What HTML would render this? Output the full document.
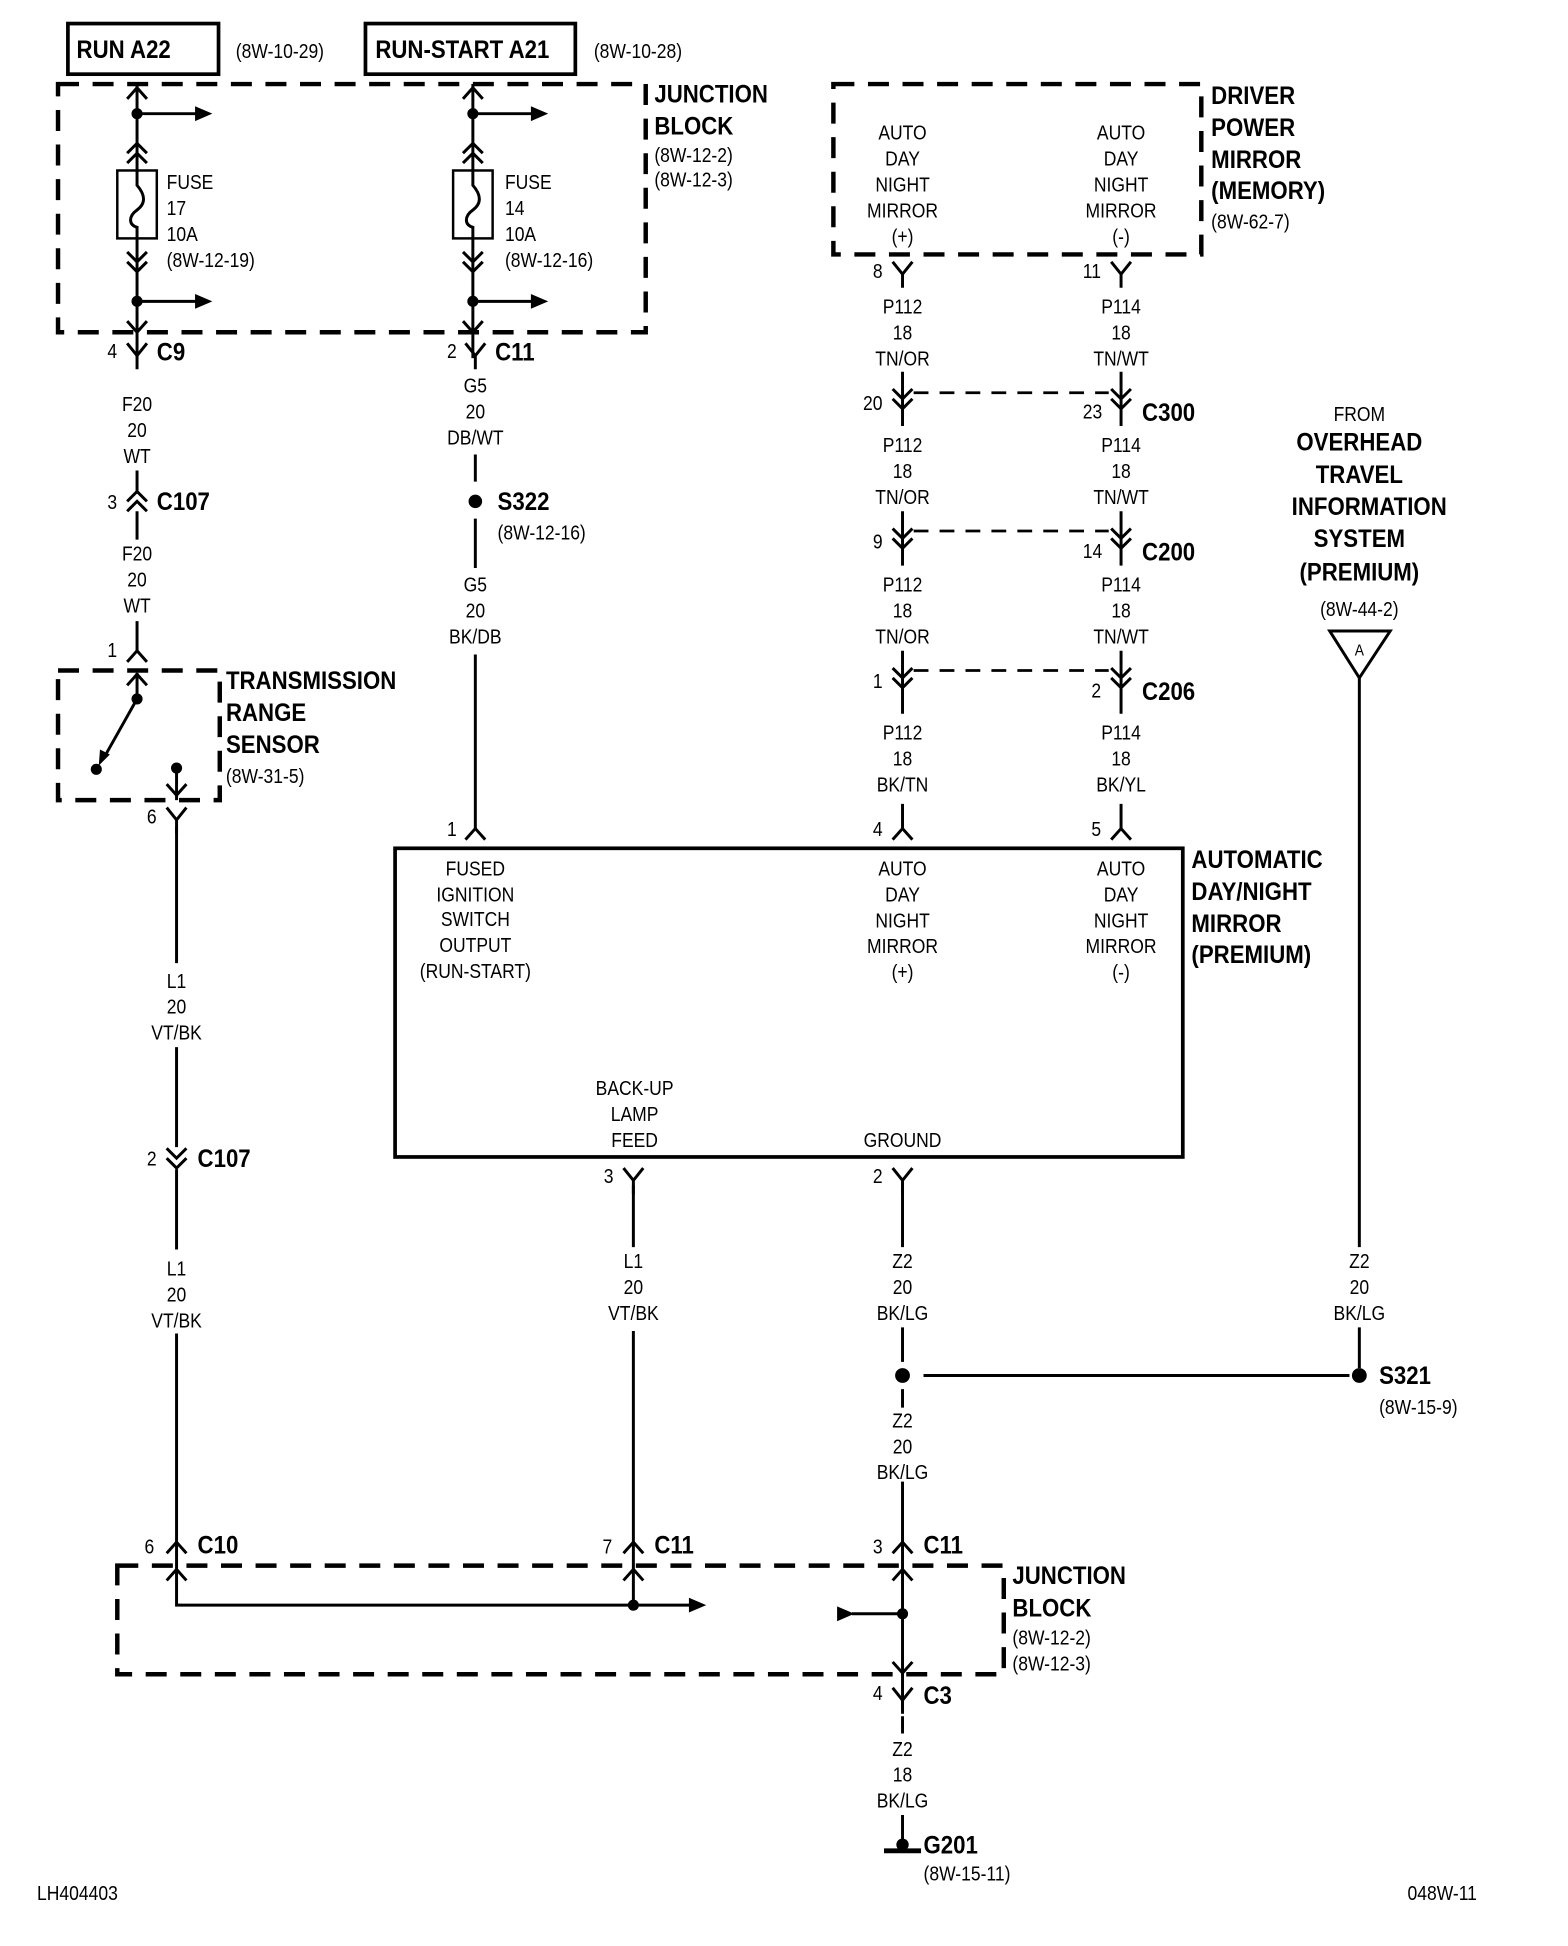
<!DOCTYPE html>
<html><head><meta charset="utf-8"><style>
html,body{margin:0;padding:0;background:#fff;}
svg{display:block;}
text{font-family:"Liberation Sans",sans-serif;fill:#000;transform-box:fill-box;}
.s{font-size:16.5px;}
.t{font-size:20px;font-weight:bold;}
.st{transform-origin:left center;transform:scaleX(0.86);}
.t.st{transform:scaleX(0.9);}
.m{text-anchor:middle;transform-origin:center;transform:scaleX(0.86);}
.t.m{transform:scaleX(0.9);}
.w{stroke:#000;stroke-width:2.4;fill:none;}
.d{stroke:#000;stroke-width:3.6;fill:none;stroke-dasharray:17 11;}
.dl{stroke:#000;stroke-width:2.2;fill:none;stroke-dasharray:12 9;}
</style></head><body>
<svg width="1568" height="1946" viewBox="0 0 1270 1576" xmlns="http://www.w3.org/2000/svg">
<defs>
<path id="y" d="M-8,-9 L0,1 L8,-9 M0,1 V12" stroke="#000" stroke-width="2.4" fill="none"/>
<path id="ca" d="M-8,8 L0,-1 L8,8" stroke="#000" stroke-width="2.4" fill="none"/>
<path id="cv" d="M-8,-8 L0,1 L8,-8" stroke="#000" stroke-width="2.4" fill="none"/>
<path id="dd" d="M-8,-8 L0,0 L8,-8 M-8,0 L0,8 L8,0" stroke="#000" stroke-width="2.4" fill="none"/>
<path id="du" d="M-8,8 L0,0 L8,8 M-8,0 L0,-8 L8,0" stroke="#000" stroke-width="2.4" fill="none"/>
<path id="ar" d="M0,-6 L14,0 L0,6 Z" fill="#000"/>
</defs>

<rect x="55" y="19" width="122" height="41" fill="none" stroke="#000" stroke-width="3"/>
<text class="t st" x="62" y="47">RUN A22</text>
<text class="s st" x="191" y="47">(8W-10-29)</text>
<rect x="296" y="19" width="170" height="41" fill="none" stroke="#000" stroke-width="3"/>
<text class="t st" x="304" y="47">RUN-START A21</text>
<text class="s st" x="481" y="47">(8W-10-28)</text>

<rect x="47" y="68" width="476" height="201" class="d"/>
<text class="t st" x="530" y="83">JUNCTION</text>
<text class="t st" x="530" y="109">BLOCK</text>
<text class="s st" x="530" y="131">(8W-12-2)</text>
<text class="s st" x="530" y="151">(8W-12-3)</text>

<g>
<path class="w" d="M111,68 V138 M111,193 V290"/>
<use href="#ca" x="111" y="72"/>
<circle cx="111" cy="92" r="4.5"/>
<path class="w" d="M111,92 H160"/><use href="#ar" x="158" y="92"/>
<use href="#du" x="111" y="124"/>
<rect x="95" y="138" width="32" height="55" fill="#fff" stroke="#000" stroke-width="2"/>
<path class="w" d="M111,138 V150 C118,158 118,165 111,170 C104,175 104,182 111,184 V193" stroke-width="2"/>
<use href="#dd" x="111" y="212"/>
<circle cx="111" cy="244" r="4.5"/>
<path class="w" d="M111,244 H160"/><use href="#ar" x="158" y="244"/>
<use href="#cv" x="111" y="268"/>
<text class="s st" x="135" y="153">FUSE</text>
<text class="s st" x="135" y="174">17</text>
<text class="s st" x="135" y="195">10A</text>
<text class="s st" x="135" y="216">(8W-12-19)</text>
</g>
<g>
<path class="w" d="M383,68 V138 M383,193 V290"/>
<use href="#ca" x="383" y="72"/>
<circle cx="383" cy="92" r="4.5"/>
<path class="w" d="M383,92 H432"/><use href="#ar" x="430" y="92"/>
<use href="#du" x="383" y="124"/>
<rect x="367" y="138" width="32" height="55" fill="#fff" stroke="#000" stroke-width="2"/>
<path class="w" d="M383,138 V150 C390,158 390,165 383,170 C376,175 376,182 383,184 V193" stroke-width="2"/>
<use href="#dd" x="383" y="212"/>
<circle cx="383" cy="244" r="4.5"/>
<path class="w" d="M383,244 H432"/><use href="#ar" x="430" y="244"/>
<use href="#cv" x="383" y="268"/>
<text class="s st" x="409" y="153">FUSE</text>
<text class="s st" x="409" y="174">14</text>
<text class="s st" x="409" y="195">10A</text>
<text class="s st" x="409" y="216">(8W-12-16)</text>
</g>

<use href="#y" x="111" y="287"/>
<text class="s st" x="87" y="290">4</text>
<text class="t st" x="127" y="292">C9</text>
<text class="s m" x="111" y="333">F20</text>
<text class="s m" x="111" y="354">20</text>
<text class="s m" x="111" y="375">WT</text>
<path class="w" d="M111,381 V398 M111,414 V437"/>
<use href="#du" x="111" y="406"/>
<text class="s st" x="87" y="412">3</text>
<text class="t st" x="127" y="413">C107</text>
<text class="s m" x="111" y="454">F20</text>
<text class="s m" x="111" y="475">20</text>
<text class="s m" x="111" y="496">WT</text>
<path class="w" d="M111,503 V528"/>
<use href="#ca" x="111" y="528"/>
<text class="s st" x="87" y="532">1</text>

<rect x="47" y="543" width="131" height="105" class="d"/>
<use href="#ca" x="111" y="547"/>
<path class="w" d="M111,545 V566"/>
<circle cx="111" cy="566" r="4.5"/>
<path class="w" d="M111,566 L84,614" stroke-width="2"/>
<path d="M80,620 L81,607 L89,611 Z" fill="#000"/>
<circle cx="78" cy="623" r="4.5"/>
<circle cx="143" cy="622" r="4.5"/>
<path class="w" d="M143,622 V648"/>
<use href="#cv" x="143" y="643"/>
<text class="t st" x="183" y="558">TRANSMISSION</text>
<text class="t st" x="183" y="584">RANGE</text>
<text class="t st" x="183" y="610">SENSOR</text>
<text class="s st" x="183" y="634">(8W-31-5)</text>

<use href="#y" x="143" y="663"/>
<text class="s st" x="119" y="667">6</text>
<path class="w" d="M143,670 V780 M143,848 V929 M143,947 V1012 M143,1080 V1300 H560"/>
<text class="s m" x="143" y="800">L1</text>
<text class="s m" x="143" y="821">20</text>
<text class="s m" x="143" y="842">VT/BK</text>
<use href="#dd" x="143" y="938"/>
<text class="s st" x="119" y="944">2</text>
<text class="t st" x="160" y="945">C107</text>
<text class="s m" x="143" y="1033">L1</text>
<text class="s m" x="143" y="1054">20</text>
<text class="s m" x="143" y="1075">VT/BK</text>
<use href="#ca" x="143" y="1250"/>
<use href="#ca" x="143" y="1272"/>
<text class="s st" x="117" y="1258">6</text>
<text class="t st" x="160" y="1258">C10</text>
<use href="#ar" x="558" y="1300"/>
<circle cx="513" cy="1300" r="4.5"/>

<rect x="95" y="1268" width="718" height="88" class="d"/>
<text class="t st" x="820" y="1283">JUNCTION</text>
<text class="t st" x="820" y="1309">BLOCK</text>
<text class="s st" x="820" y="1332">(8W-12-2)</text>
<text class="s st" x="820" y="1353">(8W-12-3)</text>

<use href="#y" x="385" y="287"/>
<text class="s st" x="362" y="290">2</text>
<text class="t st" x="401" y="292">C11</text>
<text class="s m" x="385" y="318">G5</text>
<text class="s m" x="385" y="339">20</text>
<text class="s m" x="385" y="360">DB/WT</text>
<path class="w" d="M385,368 V390 M385,420 V460"/>
<circle cx="385" cy="406" r="5.5"/>
<text class="t st" x="403" y="413">S322</text>
<text class="s st" x="403" y="437">(8W-12-16)</text>
<text class="s m" x="385" y="479">G5</text>
<text class="s m" x="385" y="500">20</text>
<text class="s m" x="385" y="521">BK/DB</text>
<path class="w" d="M385,530 V672"/>
<use href="#ca" x="385" y="672"/>
<text class="s st" x="362" y="677">1</text>

<rect x="320" y="687" width="638" height="250" fill="none" stroke="#000" stroke-width="3"/>
<text class="s m" x="385" y="709">FUSED</text>
<text class="s m" x="385" y="730">IGNITION</text>
<text class="s m" x="385" y="750">SWITCH</text>
<text class="s m" x="385" y="771">OUTPUT</text>
<text class="s m" x="385" y="792">(RUN-START)</text>
<text class="s m" x="731" y="709">AUTO</text>
<text class="s m" x="731" y="730">DAY</text>
<text class="s m" x="731" y="751">NIGHT</text>
<text class="s m" x="731" y="772">MIRROR</text>
<text class="s m" x="731" y="793">(+)</text>
<text class="s m" x="908" y="709">AUTO</text>
<text class="s m" x="908" y="730">DAY</text>
<text class="s m" x="908" y="751">NIGHT</text>
<text class="s m" x="908" y="772">MIRROR</text>
<text class="s m" x="908" y="793">(-)</text>
<text class="s m" x="514" y="887">BACK-UP</text>
<text class="s m" x="514" y="908">LAMP</text>
<text class="s m" x="514" y="929">FEED</text>
<text class="s m" x="731" y="929">GROUND</text>
<text class="t st" x="965" y="703">AUTOMATIC</text>
<text class="t st" x="965" y="729">DAY/NIGHT</text>
<text class="t st" x="965" y="755">MIRROR</text>
<text class="t st" x="965" y="780">(PREMIUM)</text>

<rect x="675" y="68" width="298" height="138" class="d"/>
<text class="s m" x="731" y="113">AUTO</text>
<text class="s m" x="731" y="134">DAY</text>
<text class="s m" x="731" y="155">NIGHT</text>
<text class="s m" x="731" y="176">MIRROR</text>
<text class="s m" x="731" y="197">(+)</text>
<text class="s m" x="908" y="113">AUTO</text>
<text class="s m" x="908" y="134">DAY</text>
<text class="s m" x="908" y="155">NIGHT</text>
<text class="s m" x="908" y="176">MIRROR</text>
<text class="s m" x="908" y="197">(-)</text>
<text class="t st" x="981" y="84">DRIVER</text>
<text class="t st" x="981" y="110">POWER</text>
<text class="t st" x="981" y="136">MIRROR</text>
<text class="t st" x="981" y="161">(MEMORY)</text>
<text class="s st" x="981" y="185">(8W-62-7)</text>

<use href="#y" x="731" y="221"/><text class="s st" x="707" y="225">8</text>
<use href="#y" x="908" y="221"/><text class="s st" x="877" y="225">11</text>
<text class="s m" x="731" y="254">P112</text><text class="s m" x="731" y="275">18</text><text class="s m" x="731" y="296">TN/OR</text>
<text class="s m" x="908" y="254">P114</text><text class="s m" x="908" y="275">18</text><text class="s m" x="908" y="296">TN/WT</text>
<path class="w" d="M731,301 V345 M908,301 V345"/>
<use href="#dd" x="731" y="323"/><use href="#dd" x="908" y="323"/>
<path class="dl" d="M740,318 H898"/>
<text class="s st" x="699" y="332">20</text>
<text class="s st" x="877" y="339">23</text>
<text class="t st" x="925" y="341">C300</text>
<text class="s m" x="731" y="366">P112</text><text class="s m" x="731" y="387">18</text><text class="s m" x="731" y="408">TN/OR</text>
<text class="s m" x="908" y="366">P114</text><text class="s m" x="908" y="387">18</text><text class="s m" x="908" y="408">TN/WT</text>
<path class="w" d="M731,414 V458 M908,414 V458"/>
<use href="#dd" x="731" y="436"/><use href="#dd" x="908" y="436"/>
<path class="dl" d="M740,430 H898"/>
<text class="s st" x="707" y="444">9</text>
<text class="s st" x="877" y="452">14</text>
<text class="t st" x="925" y="454">C200</text>
<text class="s m" x="731" y="479">P112</text><text class="s m" x="731" y="500">18</text><text class="s m" x="731" y="521">TN/OR</text>
<text class="s m" x="908" y="479">P114</text><text class="s m" x="908" y="500">18</text><text class="s m" x="908" y="521">TN/WT</text>
<path class="w" d="M731,527 V578 M908,527 V578"/>
<use href="#dd" x="731" y="549"/><use href="#dd" x="908" y="549"/>
<path class="dl" d="M740,543 H898"/>
<text class="s st" x="707" y="557">1</text>
<text class="s st" x="884" y="565">2</text>
<text class="t st" x="925" y="567">C206</text>
<text class="s m" x="731" y="599">P112</text><text class="s m" x="731" y="620">18</text><text class="s m" x="731" y="641">BK/TN</text>
<text class="s m" x="908" y="599">P114</text><text class="s m" x="908" y="620">18</text><text class="s m" x="908" y="641">BK/YL</text>
<path class="w" d="M731,651 V672 M908,651 V672"/>
<use href="#ca" x="731" y="672"/><use href="#ca" x="908" y="672"/>
<text class="s st" x="707" y="677">4</text>
<text class="s st" x="884" y="677">5</text>

<use href="#y" x="513" y="955"/><text class="s st" x="489" y="958">3</text>
<use href="#y" x="731" y="955"/><text class="s st" x="707" y="958">2</text>
<path class="w" d="M513,960 V1010 M513,1078 V1300 M731,960 V1010 M731,1075 V1103 M731,1125 V1140 M731,1200 V1385 M731,1390 V1404 M731,1470 V1490"/>
<text class="s m" x="513" y="1027">L1</text><text class="s m" x="513" y="1048">20</text><text class="s m" x="513" y="1069">VT/BK</text>
<text class="s m" x="731" y="1027">Z2</text><text class="s m" x="731" y="1048">20</text><text class="s m" x="731" y="1069">BK/LG</text>
<circle cx="731" cy="1114" r="6"/>
<path class="w" d="M748,1114 H1093"/>
<circle cx="1101" cy="1114" r="6"/>
<text class="t st" x="1117" y="1121">S321</text>
<text class="s st" x="1117" y="1145">(8W-15-9)</text>
<text class="s m" x="731" y="1156">Z2</text><text class="s m" x="731" y="1177">20</text><text class="s m" x="731" y="1198">BK/LG</text>
<use href="#ca" x="513" y="1250"/><use href="#ca" x="513" y="1272"/>
<text class="s st" x="488" y="1258">7</text>
<text class="t st" x="530" y="1258">C11</text>
<use href="#ca" x="731" y="1250"/><use href="#ca" x="731" y="1272"/>
<text class="s st" x="707" y="1258">3</text>
<text class="t st" x="748" y="1258">C11</text>
<path d="M678,1301 L692,1307 L678,1313 Z" fill="#000"/>
<path class="w" d="M690,1307 H731" stroke-width="2"/>
<circle cx="731" cy="1307" r="4.5"/>
<use href="#cv" x="731" y="1354"/>
<use href="#y" x="731" y="1376"/>
<text class="s st" x="707" y="1377">4</text>
<text class="t st" x="748" y="1380">C3</text>
<text class="s m" x="731" y="1422">Z2</text><text class="s m" x="731" y="1443">18</text><text class="s m" x="731" y="1464">BK/LG</text>
<circle cx="731" cy="1494" r="5"/>
<path d="M716,1499 H746" stroke="#000" stroke-width="4"/>
<text class="t st" x="748" y="1501">G201</text>
<text class="s st" x="748" y="1523">(8W-15-11)</text>

<text class="s m" x="1101" y="341">FROM</text>
<text class="t m" x="1101" y="365">OVERHEAD</text>
<text class="t m" x="1101" y="391">TRAVEL</text>
<text class="t m" x="1109" y="417">INFORMATION</text>
<text class="t m" x="1101" y="443">SYSTEM</text>
<text class="t m" x="1101" y="470">(PREMIUM)</text>
<text class="s m" x="1101" y="499">(8W-44-2)</text>
<path d="M1077,511 H1126 L1101,549 Z" fill="#fff" stroke="#000" stroke-width="2.4"/>
<text class="s m" x="1101" y="531" style="font-size:13px">A</text>
<path class="w" d="M1101,549 V1010 M1101,1075 V1108"/>
<text class="s m" x="1101" y="1027">Z2</text><text class="s m" x="1101" y="1048">20</text><text class="s m" x="1101" y="1069">BK/LG</text>

<text class="s st" x="30" y="1539">LH404403</text>
<text class="s st" x="1140" y="1539">048W-11</text>
</svg>
</body></html>
